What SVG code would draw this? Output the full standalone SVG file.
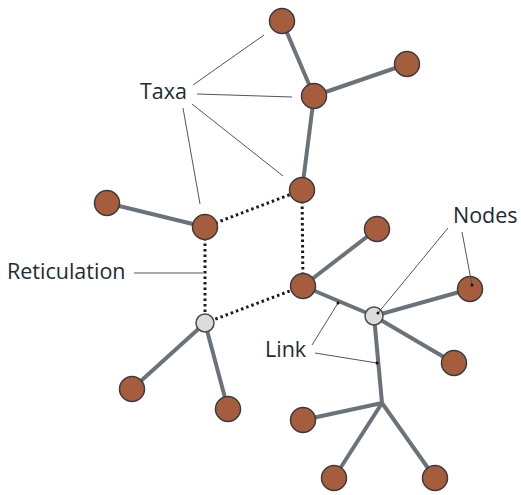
<svg xmlns="http://www.w3.org/2000/svg" width="521" height="495" viewBox="0 0 521 495">
  <style>
    .link { stroke: #6b737a; stroke-width: 4; fill: none; }
    .ret { stroke: #1a1a1a; stroke-width: 3; stroke-dasharray: 2.5 3; fill: none; }
    .taxon { fill: #a65d3e; stroke: #3b3b3b; stroke-width: 1.5; }
    .inner { fill: #dcdcdc; stroke: #4a4a4a; stroke-width: 1.5; }
    .callout { stroke: #555; stroke-width: 1; fill: none; }
    .tip { fill: #111; }
    .label { font-family: "Open Sans", "Noto Sans", sans-serif; font-size: 21.5px; fill: #222a35; }
  </style>
  <rect width="521" height="495" fill="#ffffff"/>

  <g id="connectors">
    <line class="link" x1="282" y1="21" x2="314" y2="96"/>
    <line class="link" x1="314" y1="96" x2="407" y2="64"/>
    <line class="link" x1="314" y1="96" x2="302" y2="190"/>
    <line class="link" x1="107" y1="203" x2="205" y2="227"/>
    <line class="link" x1="205" y1="323" x2="132" y2="389"/>
    <line class="link" x1="205" y1="323" x2="228" y2="409"/>
    <line class="link" x1="303" y1="286" x2="377" y2="229"/>
    <line class="link" x1="303" y1="286" x2="374" y2="316"/>
    <line class="link" x1="374" y1="316" x2="470" y2="289"/>
    <line class="link" x1="374" y1="316" x2="454" y2="363"/>
    <line class="link" x1="374" y1="316" x2="382" y2="403"/>
    <line class="link" x1="382" y1="403" x2="303" y2="420"/>
    <line class="link" x1="382" y1="403" x2="334" y2="478"/>
    <line class="link" x1="382" y1="403" x2="435" y2="478"/>
    <line class="ret" x1="205" y1="227" x2="302" y2="190"/>
    <line class="ret" x1="302" y1="190" x2="303" y2="286"/>
    <line class="ret" x1="205" y1="227" x2="205" y2="323"/>
    <line class="ret" x1="205" y1="323" x2="303" y2="286"/>
  </g>

  <g id="n-top"><circle class="taxon" cx="282" cy="21" r="12.5"/></g>
  <g id="n-a"><circle class="taxon" cx="314" cy="96" r="12.5"/></g>
  <g id="n-right"><circle class="taxon" cx="407" cy="64" r="12.5"/></g>
  <g id="n-b"><circle class="taxon" cx="302" cy="190" r="12.5"/></g>
  <g id="n-left"><circle class="taxon" cx="107" cy="203" r="12.5"/></g>
  <g id="n-c"><circle class="taxon" cx="205" cy="227" r="12.5"/></g>
  <g id="n-d"><circle class="taxon" cx="303" cy="286" r="12.5"/></g>
  <g id="n-e"><circle class="taxon" cx="377" cy="229" r="12.5"/></g>
  <g id="n-f"><circle class="taxon" cx="470" cy="289" r="12.5"/></g>
  <g id="n-g"><circle class="taxon" cx="454" cy="363" r="12.5"/></g>
  <g id="n-h"><circle class="taxon" cx="132" cy="389" r="12.5"/></g>
  <g id="n-i"><circle class="taxon" cx="228" cy="409" r="12.5"/></g>
  <g id="n-j"><circle class="taxon" cx="303" cy="420" r="12.5"/></g>
  <g id="n-k"><circle class="taxon" cx="334" cy="478" r="12.5"/></g>
  <g id="n-l"><circle class="taxon" cx="435" cy="478" r="12.5"/></g>
  <g id="n-hyb1"><circle class="inner" cx="205" cy="323" r="9"/></g>
  <g id="n-hyb2"><circle class="inner" cx="374" cy="316" r="9"/></g>

  <g id="label-taxa">
    <text class="label" x="140" y="99">Taxa</text>
    <line class="callout" x1="193" y1="85" x2="264" y2="35"/>
    <line class="callout" x1="197" y1="94" x2="292" y2="97"/>
    <line class="callout" x1="192" y1="104" x2="283" y2="176"/>
    <line class="callout" x1="183" y1="108" x2="200" y2="204"/>
  </g>
  <g id="label-reticulation">
    <text class="label" x="7" y="279">Reticulation</text>
    <line class="callout" x1="134" y1="273" x2="203" y2="273"/>
  </g>
  <g id="label-nodes">
    <text class="label" x="453" y="223">Nodes</text>
    <line class="callout" x1="448" y1="228" x2="378" y2="313"/>
    <line class="callout" x1="462" y1="232" x2="472" y2="285"/>
    <circle class="tip" cx="378" cy="313" r="1.5"/>
    <circle class="tip" cx="472" cy="285" r="1.5"/>
  </g>
  <g id="label-link">
    <text class="label" x="265" y="357">Link</text>
    <line class="callout" x1="312" y1="345" x2="338" y2="303"/>
    <line class="callout" x1="315" y1="353" x2="377" y2="363"/>
    <circle class="tip" cx="338" cy="303" r="1.5"/>
    <circle class="tip" cx="377" cy="363" r="1.5"/>
  </g>
</svg>
